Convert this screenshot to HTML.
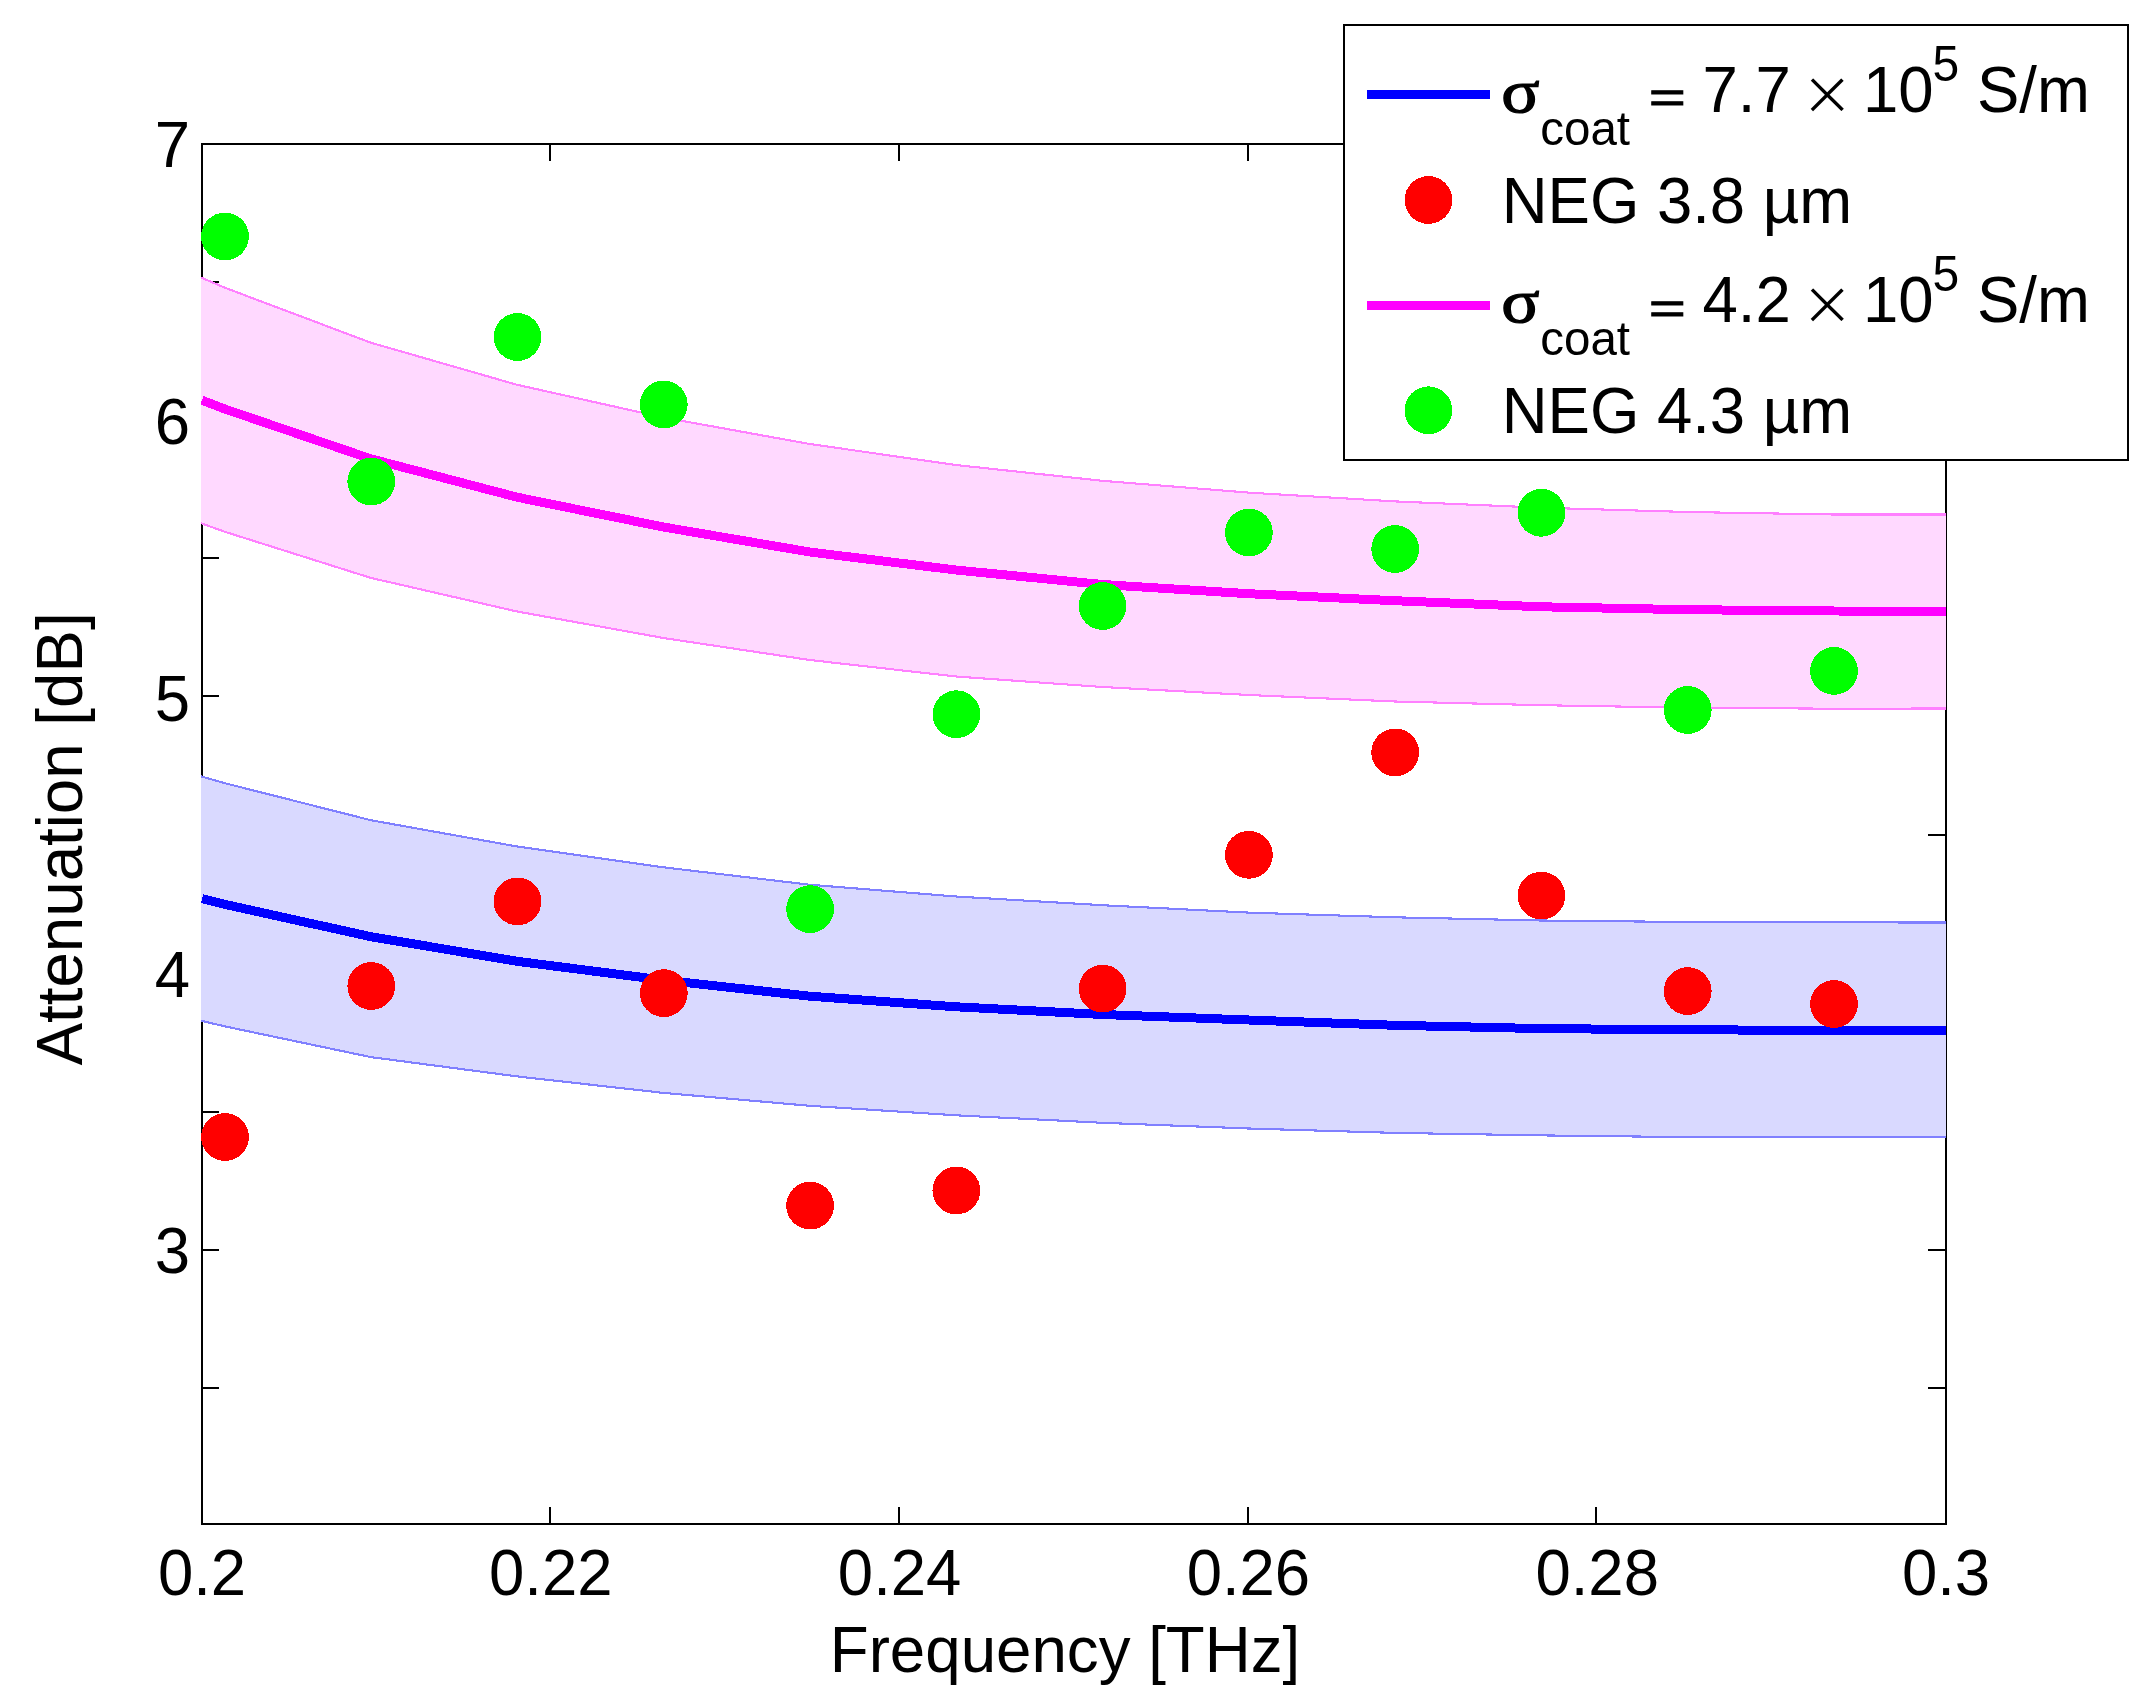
<!DOCTYPE html>
<html lang="en"><head><meta charset="utf-8"><title>Attenuation vs Frequency</title>
<style>
html,body{margin:0;padding:0;background:#fff;}
body{width:2154px;height:1706px;overflow:hidden;}
svg{display:block;}
text{font-family:"Liberation Sans", sans-serif;font-size:63.5px;fill:#000;}
.s{font-family:"Liberation Serif", serif;}
.sub{font-size:48px;}
</style></head><body>
<svg width="2154" height="1706" viewBox="0 0 2154 1706">
<rect width="2154" height="1706" fill="#fff"/>
<defs><clipPath id="c"><rect x="201" y="143" width="1745" height="1382"/></clipPath></defs>
<g stroke="#000" stroke-width="2" fill="none" shape-rendering="crispEdges"><rect x="202" y="144" width="1744" height="1380"/><line x1="550" y1="1524" x2="550" y2="1507"/><line x1="550" y1="144" x2="550" y2="161"/><line x1="899" y1="1524" x2="899" y2="1507"/><line x1="899" y1="144" x2="899" y2="161"/><line x1="1248" y1="1524" x2="1248" y2="1507"/><line x1="1248" y1="144" x2="1248" y2="161"/><line x1="1596" y1="1524" x2="1596" y2="1507"/><line x1="1596" y1="144" x2="1596" y2="161"/><line x1="202" y1="282" x2="219" y2="282"/><line x1="1946" y1="282" x2="1928" y2="282"/><line x1="202" y1="420" x2="219" y2="420"/><line x1="1946" y1="420" x2="1928" y2="420"/><line x1="202" y1="558" x2="219" y2="558"/><line x1="1946" y1="558" x2="1928" y2="558"/><line x1="202" y1="696" x2="219" y2="696"/><line x1="1946" y1="696" x2="1928" y2="696"/><line x1="202" y1="835" x2="219" y2="835"/><line x1="1946" y1="835" x2="1928" y2="835"/><line x1="202" y1="973" x2="219" y2="973"/><line x1="1946" y1="973" x2="1928" y2="973"/><line x1="202" y1="1112" x2="219" y2="1112"/><line x1="1946" y1="1112" x2="1928" y2="1112"/><line x1="202" y1="1250" x2="219" y2="1250"/><line x1="1946" y1="1250" x2="1928" y2="1250"/><line x1="202" y1="1388" x2="219" y2="1388"/><line x1="1946" y1="1388" x2="1928" y2="1388"/></g>
<g clip-path="url(#c)" shape-rendering="crispEdges">
<polygon points="171.0,767.6 201.0,776.3 224.5,783.1 370.8,820.2 517.1,846.5 663.4,867.3 809.7,884.7 956.0,896.5 1102.3,905.2 1248.6,912.6 1394.9,917.3 1541.2,920.5 1687.5,922.0 1833.8,922.4 1946.0,922.5 1976.0,922.5 1976.0,1137.4 1946.0,1137.4 1833.8,1137.4 1687.5,1137.1 1541.2,1135.4 1394.9,1132.9 1248.6,1128.5 1102.3,1122.8 956.0,1115.3 809.7,1105.8 663.4,1092.9 517.1,1076.4 370.8,1057.1 224.5,1026.3 201.0,1020.7 171.0,1013.6" fill="#d9d9ff"/>
<polyline points="171.0,767.6 201.0,776.3 224.5,783.1 370.8,820.2 517.1,846.5 663.4,867.3 809.7,884.7 956.0,896.5 1102.3,905.2 1248.6,912.6 1394.9,917.3 1541.2,920.5 1687.5,922.0 1833.8,922.4 1946.0,922.5 1976.0,922.5" fill="none" stroke="#8080ff" stroke-width="2.1"/>
<polyline points="171.0,1013.6 201.0,1020.7 224.5,1026.3 370.8,1057.1 517.1,1076.4 663.4,1092.9 809.7,1105.8 956.0,1115.3 1102.3,1122.8 1248.6,1128.5 1394.9,1132.9 1541.2,1135.4 1687.5,1137.1 1833.8,1137.4 1946.0,1137.4 1976.0,1137.4" fill="none" stroke="#8080ff" stroke-width="2.1"/>
<polygon points="171.0,264.6 201.0,277.5 224.5,287.6 370.8,342.7 517.1,384.8 663.4,417.5 809.7,444.0 956.0,465.0 1102.3,480.8 1248.6,492.6 1394.9,501.4 1541.2,507.7 1687.5,512.0 1833.8,514.5 1946.0,514.5 1976.0,514.5 1976.0,708.4 1946.0,708.5 1833.8,708.7 1687.5,707.7 1541.2,705.2 1394.9,701.5 1248.6,695.0 1102.3,687.0 956.0,676.5 809.7,660.0 663.4,638.0 517.1,611.5 370.8,577.9 224.5,531.7 201.0,523.2 171.0,512.3" fill="#ffd9ff"/>
<polyline points="171.0,264.6 201.0,277.5 224.5,287.6 370.8,342.7 517.1,384.8 663.4,417.5 809.7,444.0 956.0,465.0 1102.3,480.8 1248.6,492.6 1394.9,501.4 1541.2,507.7 1687.5,512.0 1833.8,514.5 1946.0,514.5 1976.0,514.5" fill="none" stroke="#ff80ff" stroke-width="2.1"/>
<polyline points="171.0,512.3 201.0,523.2 224.5,531.7 370.8,577.9 517.1,611.5 663.4,638.0 809.7,660.0 956.0,676.5 1102.3,687.0 1248.6,695.0 1394.9,701.5 1541.2,705.2 1687.5,707.7 1833.8,708.7 1946.0,708.5 1976.0,708.4" fill="none" stroke="#ff80ff" stroke-width="2.1"/>
<polyline points="202.0,898.7 224.5,904.3 370.8,936.7 517.1,961.3 663.4,980.1 809.7,996.2 956.0,1006.8 1102.3,1014.5 1248.6,1020.0 1394.9,1025.3 1541.2,1028.6 1687.5,1029.8 1833.8,1030.4 1946.0,1030.6 1976.0,1030.7" fill="none" stroke="#0000ff" stroke-width="9" stroke-linejoin="round"/>
<g fill="#ff0000"><circle cx="225.0" cy="1137.0" r="23.9"/><circle cx="371.3" cy="986.0" r="23.9"/><circle cx="517.5" cy="901.4" r="23.9"/><circle cx="663.8" cy="993.1" r="23.9"/><circle cx="810.1" cy="1205.6" r="23.9"/><circle cx="956.4" cy="1190.5" r="23.9"/><circle cx="1102.6" cy="988.6" r="23.9"/><circle cx="1248.9" cy="854.8" r="23.9"/><circle cx="1395.2" cy="752.4" r="23.9"/><circle cx="1541.4" cy="895.6" r="23.9"/><circle cx="1687.7" cy="991.1" r="23.9"/><circle cx="1834.0" cy="1004.0" r="23.9"/></g>
<polyline points="202.0,400.2 224.5,408.9 370.8,458.8 517.1,497.2 663.4,527.0 809.7,552.0 956.0,570.0 1102.3,584.5 1248.6,593.7 1394.9,600.7 1541.2,606.8 1687.5,609.7 1833.8,611.0 1946.0,611.3 1976.0,611.4" fill="none" stroke="#ff00ff" stroke-width="9" stroke-linejoin="round"/>
<g fill="#00ff00"><circle cx="225.0" cy="236.4" r="23.9"/><circle cx="371.3" cy="481.5" r="23.9"/><circle cx="517.5" cy="337.0" r="23.9"/><circle cx="663.8" cy="404.4" r="23.9"/><circle cx="810.1" cy="909.1" r="23.9"/><circle cx="956.4" cy="714.2" r="23.9"/><circle cx="1102.6" cy="606.0" r="23.9"/><circle cx="1248.9" cy="532.5" r="23.9"/><circle cx="1395.2" cy="549.0" r="23.9"/><circle cx="1541.4" cy="512.8" r="23.9"/><circle cx="1687.7" cy="710.0" r="23.9"/><circle cx="1834.0" cy="670.9" r="23.9"/></g>
</g>
<text transform="translate(202.0,1594.5) scale(1,1.03)" text-anchor="middle">0.2</text><text transform="translate(550.8,1594.5) scale(1,1.03)" text-anchor="middle">0.22</text><text transform="translate(899.6,1594.5) scale(1,1.03)" text-anchor="middle">0.24</text><text transform="translate(1248.4,1594.5) scale(1,1.03)" text-anchor="middle">0.26</text><text transform="translate(1597.2,1594.5) scale(1,1.03)" text-anchor="middle">0.28</text><text transform="translate(1946.0,1594.5) scale(1,1.03)" text-anchor="middle">0.3</text><text transform="translate(190,167) scale(1,1.03)" text-anchor="end">7</text><text transform="translate(190,444.3) scale(1,1.03)" text-anchor="end">6</text><text transform="translate(190,720.5) scale(1,1.03)" text-anchor="end">5</text><text transform="translate(190,996.6) scale(1,1.03)" text-anchor="end">4</text><text transform="translate(190,1273.3) scale(1,1.03)" text-anchor="end">3</text>
<text transform="translate(1065,1672) scale(1,1.03)" text-anchor="middle" style="font-size:63.65px">Frequency [THz]</text>
<text transform="translate(82.2,838.9) rotate(-90) scale(1,1.03)" text-anchor="middle" style="font-size:63.65px">Attenuation [dB]</text>
<rect x="1344" y="25" width="784" height="435" fill="#fff" stroke="#000" stroke-width="2" shape-rendering="crispEdges"/>
<line x1="1367" y1="94.4" x2="1490" y2="94.4" stroke="#0000ff" stroke-width="9.5" shape-rendering="crispEdges"/><text transform="translate(1501.3,111.5) scale(1.12,0.95)" class="s" style="font-size:63.5px" stroke="#000" stroke-width="1.3">σ</text><text transform="translate(1540.3,144.8) scale(1,1.03)" style="font-size:47.5px">coat</text><text transform="translate(1648.7,113.2) scale(1,0.7)" stroke="#000" stroke-width="1.27">=</text><text transform="translate(1702.5,112) scale(1,1.03)">7.7</text><text transform="translate(1803.3,122) scale(1,1)" style="font-size:82px" stroke="#fff" stroke-width="2.4" paint-order="fill stroke">×</text><text transform="translate(1863,112) scale(1,1.03)">10</text><text transform="translate(1932.5,81) scale(1,1.03)" style="font-size:48px">5</text><text transform="translate(1977,112) scale(1,1.03)">S/m</text>
<circle cx="1428.4" cy="200" r="23.9" fill="#ff0000" shape-rendering="crispEdges"/><text transform="translate(1501.7,222.8) scale(1,1.03)">NEG 3.8 µm</text>
<line x1="1367" y1="305.4" x2="1490" y2="305.4" stroke="#ff00ff" stroke-width="9.5" shape-rendering="crispEdges"/><text transform="translate(1501.3,321.9) scale(1.12,0.95)" class="s" style="font-size:63.5px" stroke="#000" stroke-width="1.3">σ</text><text transform="translate(1540.3,355.2) scale(1,1.03)" style="font-size:47.5px">coat</text><text transform="translate(1648.7,323.59999999999997) scale(1,0.7)" stroke="#000" stroke-width="1.27">=</text><text transform="translate(1702.5,322.4) scale(1,1.03)">4.2</text><text transform="translate(1803.3,332.4) scale(1,1)" style="font-size:82px" stroke="#fff" stroke-width="2.4" paint-order="fill stroke">×</text><text transform="translate(1863,322.4) scale(1,1.03)">10</text><text transform="translate(1932.5,291.4) scale(1,1.03)" style="font-size:48px">5</text><text transform="translate(1977,322.4) scale(1,1.03)">S/m</text>
<circle cx="1428.4" cy="410.3" r="23.9" fill="#00ff00" shape-rendering="crispEdges"/><text transform="translate(1501.7,433) scale(1,1.03)">NEG 4.3 µm</text>
</svg>
</body></html>
